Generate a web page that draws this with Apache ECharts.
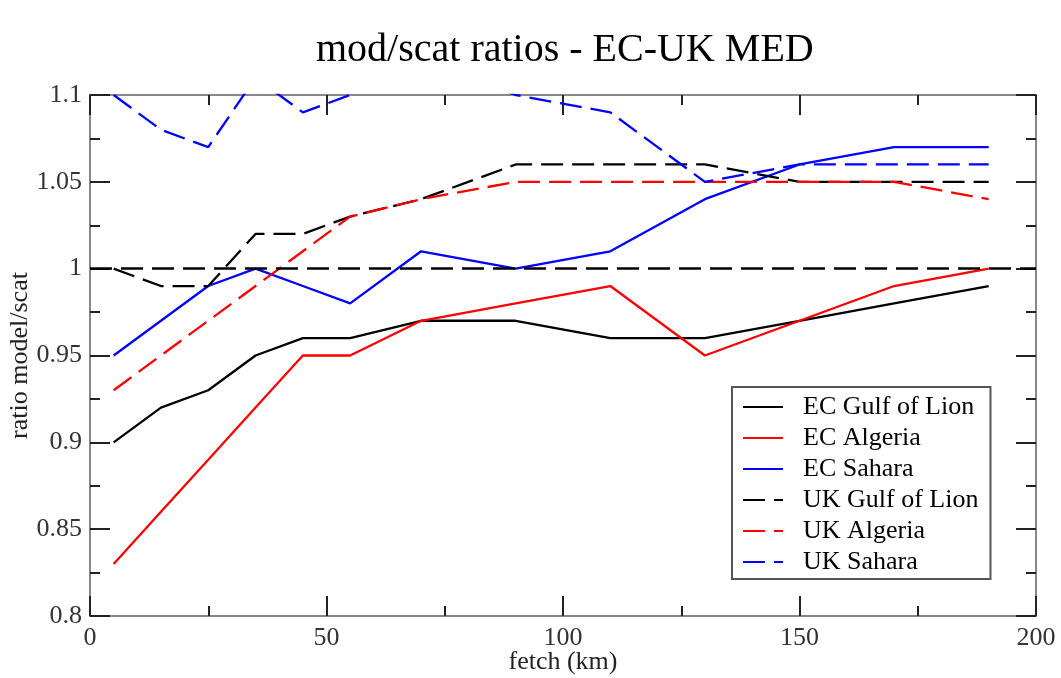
<!DOCTYPE html>
<html>
<head>
<meta charset="utf-8">
<script src="https://cdn.jsdelivr.net/npm/echarts@6/dist/echarts.min.js"></script>
<style>
  html, body { margin: 0; padding: 0; background: #fff; }
  #chart { width: 1061px; height: 678px; }
</style>
</head>
<body>
<div id="chart"></div>
<script>
// fetch (km) where each ratio was computed
const fetchKm = [5, 15, 25, 35, 45, 55, 70, 90, 110, 130, 150, 170, 190]
// model / scatterometer ratios
const ecGulf = [0.90, 0.92, 0.93, 0.95, 0.96, 0.96, 0.97, 0.97, 0.96, 0.96, 0.97, 0.98, 0.99]
const ecAlgeria = [0.83, 0.86, 0.89, 0.92, 0.95, 0.95, 0.97, 0.98, 0.99, 0.95, 0.97, 0.99, 1.00]
const ecSahara = [0.95, 0.97, 0.99, 1.00, 0.99, 0.98, 1.01, 1.00, 1.01, 1.04, 1.06, 1.07, 1.07]
const ukGulf = [1.00, 0.99, 0.99, 1.02, 1.02, 1.03, 1.04, 1.06, 1.06, 1.06, 1.05, 1.05, 1.05]
const ukAlgeria = [0.93, 0.95, 0.97, 0.99, 1.01, 1.03, 1.04, 1.05, 1.05, 1.05, 1.05, 1.05, 1.04]
const ukSahara = [1.10, 1.08, 1.07, 1.11, 1.09, 1.10, 1.12, 1.10, 1.09, 1.05, 1.06, 1.06, 1.06]
const refRatio = 1

const serif = 'Liberation Serif'
const dash = [22, 9]

// pair the x values with one series
const pts = (vals) => fetchKm.map((x, i) => [x, vals[i]])

const mk = (name, vals, color, dashed) => ({
  name: name,
  type: 'line',
  data: pts(vals),
  symbol: 'none',
  clip: true,
  lineStyle: { color: color, width: 2.3, type: dashed ? dash : 'solid' },
  itemStyle: { color: color },
  z: 3,
})

const chart = echarts.init(document.getElementById('chart'))

const tickAxis = () => ({
  axisLine: { onZero: false, lineStyle: { color: '#888', width: 2 } },
  axisTick: { inside: true, length: 20, lineStyle: { color: '#222', width: 2 } },
  minorTick: { show: true, splitNumber: 2, length: 10, lineStyle: { color: '#222', width: 2 } },
  splitLine: { show: false },
})

const series = [
  mk('EC Gulf of Lion', ecGulf, '#000', false),
  mk('EC Algeria', ecAlgeria, '#ff0000', false),
  mk('EC Sahara', ecSahara, '#0000ff', false),
  mk('UK Gulf of Lion', ukGulf, '#000', true),
  mk('UK Algeria', ukAlgeria, '#ff0000', true),
  mk('UK Sahara', ukSahara, '#0000ff', true),
]
// horizontal reference at ratio = 1
series[3].markLine = {
  silent: true,
  symbol: 'none',
  label: { show: false },
  lineStyle: { color: '#000', width: 2.5, type: dash },
  data: [{ yAxis: refRatio }],
}

chart.setOption({
  animation: false,
  backgroundColor: '#fff',
  title: {
    text: 'mod/scat ratios - EC-UK MED',
    left: 311,
    top: 25,
    textStyle: { fontFamily: serif, fontSize: 40, fontWeight: 'normal', color: '#000' },
  },
  grid: { left: 90, right: 25, top: 95, bottom: 62, containLabel: false, outerBoundsMode: 'none' },
  legend: {
    orient: 'vertical',
    left: 732,
    top: 387,
    width: 258,
    itemWidth: 40,
    itemHeight: 14,
    itemGap: 5,
    padding: [7, 12, 4, 10],
    borderColor: '#555',
    borderWidth: 2,
    backgroundColor: '#fff',
    align: 'left',
    // hide the marker dot, keep the line sample
    itemStyle: { color: 'rgba(0,0,0,0)', borderWidth: 0, opacity: 0 },
    textStyle: { fontFamily: serif, fontSize: 26, lineHeight: 26, color: '#000', padding: [0, 0, 0, 15] },
    data: series.map(s => s.name),
  },
  xAxis: [
    Object.assign(tickAxis(), {
      type: 'value', min: 0, max: 200, interval: 50,
      name: 'fetch (km)', nameLocation: 'middle', nameGap: 33, nameMoveOverlap: false,
      nameTextStyle: { fontFamily: serif, fontSize: 26, color: '#222' },
      axisLabel: { fontFamily: serif, fontSize: 26, color: '#333', margin: 9 },
    }),
    Object.assign(tickAxis(), {
      type: 'value', min: 0, max: 200, interval: 50, position: 'top',
      axisLabel: { show: false },
    }),
  ],
  yAxis: [
    Object.assign(tickAxis(), {
      type: 'value', min: 0.8, max: 1.1, interval: 0.05,
      name: 'ratio model/scat', nameLocation: 'middle', nameGap: 57, nameMoveOverlap: false,
      nameTextStyle: { fontFamily: serif, fontSize: 26, color: '#222' },
      axisLabel: { fontFamily: serif, fontSize: 26, color: '#333', margin: 8 },
    }),
    Object.assign(tickAxis(), {
      type: 'value', min: 0.8, max: 1.1, interval: 0.05, position: 'right',
      axisLabel: { show: false },
    }),
  ],
  series: series,
})
</script>
</body>
</html>
